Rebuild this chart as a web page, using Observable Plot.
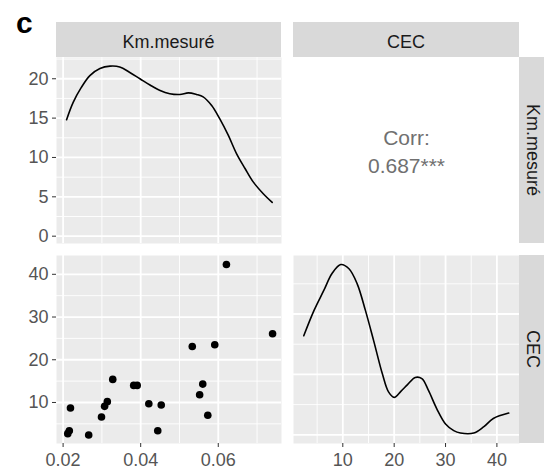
<!DOCTYPE html>
<html><head><meta charset="utf-8">
<script src="https://cdn.jsdelivr.net/npm/d3@7"></script>
<script src="https://cdn.jsdelivr.net/npm/@observablehq/plot@0.6"></script>
<style>
body{margin:0;background:#fff;}
#c{position:relative;width:544px;height:475px;overflow:hidden;font-family:"Liberation Sans",Arial,sans-serif;background:#fff;}
.strip{position:absolute;background:#D9D9D9;color:#1A1A1A;font-size:18px;display:flex;align-items:center;justify-content:center;box-sizing:border-box;}
.top{padding-top:5px;}
.side{writing-mode:vertical-rl;}
#lab{position:absolute;left:16px;top:6px;font-weight:bold;font-size:30px;color:#000;}
#c svg{position:absolute;overflow:visible;}
</style></head><body><div id="c"><div id="lab">c</div></div>
<script>
// ---- data ----
const variables = ["Km.mesuré", "CEC"];
const kmValues  = [0.0212, 0.0216, 0.0219, 0.0266, 0.0299, 0.0307, 0.0314, 0.0328, 0.0382, 0.0391,
                   0.0421, 0.0444, 0.0453, 0.0533, 0.0552, 0.0560, 0.0573, 0.0591, 0.0621, 0.0740];
const cecValues = [2.7, 3.4, 8.7, 2.4, 6.6, 9.1, 10.2, 15.4, 14.0, 14.0,
                   9.7, 3.4, 9.4, 23.1, 11.8, 14.3, 7.0, 23.5, 42.3, 26.1];
const kmDensityX = [0.0209, 0.0226, 0.0247, 0.0269, 0.0295, 0.0321, 0.0346, 0.0372, 0.0398, 0.0424,
                    0.0450, 0.0475, 0.0501, 0.0523, 0.0544, 0.0561, 0.0583, 0.0604, 0.0626, 0.0647,
                    0.0669, 0.0690, 0.0716, 0.0739];
const kmDensityY = [14.8, 17.0, 18.9, 20.4, 21.3, 21.6, 21.5, 20.8, 20.0, 19.2,
                    18.5, 18.1, 18.0, 18.2, 18.0, 17.7, 16.6, 14.9, 12.8, 10.5,
                    8.6, 6.9, 5.4, 4.3];
const cecDensityX = [2.4, 4.4, 6.3, 7.9, 9.6, 11.2, 12.8, 14.4, 16.0, 17.7, 18.9, 20.0, 21.3, 22.6,
                     24.1, 25.4, 26.7, 28.3, 30.0, 31.6, 32.9, 35.5, 37.4, 39.3, 42.3];
const cecDensityY = [0.0164, 0.0206, 0.0239, 0.0267, 0.0282, 0.0275, 0.0250, 0.0206, 0.0156, 0.0101,
                     0.0071, 0.0062, 0.0072, 0.0083, 0.0095, 0.0093, 0.0073, 0.0043, 0.0018, 0.0007,
                     0.0003, 0.0003, 0.0013, 0.0027, 0.0036];
const corrLabel = ["Corr:", "0.687***"];
const kmTicks = [0.02, 0.04, 0.06];
const kmMinor = [0.03, 0.05, 0.07];
const cecTicks = [10, 20, 30, 40];
const cecMinor = [5, 15, 25, 35];
const kmDensTicks = [0, 5, 10, 15, 20];
const kmDensMinor = [2.5, 7.5, 12.5, 17.5, 22.5];
const cecDensMajor = [0, 0.01, 0.02];
const cecDensMinor = [0.005, 0.015, 0.025];

// ---- layout ----
const X0 = 56, X1 = 281, X2 = 293, X3 = 519, Y0 = 57, Y1 = 243, Y2 = 255, Y3 = 443, W = 544, H = 475;
const kmDomain = [0.0183, 0.0763];
const cecDomain = [0.4, 44.4];
const kmDensDomain = [-0.93, 22.7];
const cecDensDomain = [-0.00144, 0.02969];

const points = kmValues.map((k, i) => ({km: k, cec: cecValues[i]}));
const kmDens = kmDensityX.map((x, i) => ({x, y: kmDensityY[i]}));
const cecDens = cecDensityX.map((x, i) => ({x, y: cecDensityY[i]}));

const BG = "#EBEBEB", AX = "#555555";
const style = {fontSize: "18px", fontFamily: "Liberation Sans, Arial, sans-serif", color: AX, background: "transparent", overflow: "visible"};
const grids = (xMaj, xMin, yMaj, yMin) => [
  Plot.frame({fill: BG, stroke: null}),
  Plot.gridX(xMin, {stroke: "white", strokeOpacity: 1, strokeWidth: 0.9}),
  Plot.gridY(yMin, {stroke: "white", strokeOpacity: 1, strokeWidth: 0.9}),
  Plot.gridX(xMaj, {stroke: "white", strokeOpacity: 1, strokeWidth: 1.8}),
  Plot.gridY(yMaj, {stroke: "white", strokeOpacity: 1, strokeWidth: 1.8})
];
const c = document.getElementById("c");
function place(el, left, top) { el.style.left = left + "px"; el.style.top = top + "px"; c.appendChild(el); }

// top-left: density of Km
place(Plot.plot({
  width: X1, height: Y1 - Y0, marginLeft: X0, marginRight: 0, marginTop: 0, marginBottom: 0, style,
  x: {domain: kmDomain, axis: null}, y: {domain: kmDensDomain},
  marks: [
    ...grids(kmTicks, kmMinor, kmDensTicks, kmDensMinor),
    Plot.axisY(kmDensTicks, {tickSize: 4, tickPadding: 4, stroke: "#333", label: null}),
    Plot.line(kmDens, {x: "x", y: "y", stroke: "black", strokeWidth: 1.6, curve: "catmull-rom"})
  ]
}), 0, Y0);

// top-right: correlation
place(Plot.plot({
  width: X3 - X2, height: Y1 - Y0, margin: 0, style,
  x: {domain: [0, 1], axis: null}, y: {domain: [0, 1], axis: null},
  marks: [
    Plot.text([corrLabel.join("\n")], {frameAnchor: "middle", fontSize: 21, fill: "#707070", lineHeight: 1.33})
  ]
}), X2, Y0);

// bottom-left: scatter
place(Plot.plot({
  width: X1, height: H - Y2, marginLeft: X0, marginRight: 0, marginTop: 0, marginBottom: H - Y3, style,
  x: {domain: kmDomain}, y: {domain: cecDomain},
  marks: [
    ...grids(kmTicks, kmMinor, cecTicks, cecMinor),
    Plot.axisY(cecTicks, {tickSize: 4, tickPadding: 4, stroke: "#333", label: null}),
    Plot.axisX(kmTicks, {tickSize: 4, tickPadding: 6, stroke: "#333", label: null}),
    Plot.dot(points, {x: "km", y: "cec", r: 3.8, fill: "black", stroke: null})
  ]
}), 0, Y2);

// bottom-right: density of CEC
place(Plot.plot({
  width: X3 - X2, height: H - Y2, marginLeft: 0, marginRight: 0, marginTop: 0, marginBottom: H - Y3, style,
  x: {domain: cecDomain}, y: {domain: cecDensDomain, axis: null},
  marks: [
    ...grids(cecTicks, cecMinor, cecDensMajor, cecDensMinor),
    Plot.axisX(cecTicks, {tickSize: 4, tickPadding: 6, stroke: "#333", label: null}),
    Plot.line(cecDens, {x: "x", y: "y", stroke: "black", strokeWidth: 1.6, curve: "catmull-rom"})
  ]
}), X2, Y2);

// strips
function strip(text, left, top, w, h, cls) {
  const d = document.createElement("div");
  d.className = "strip " + cls;
  d.textContent = text;
  d.style.width = w + "px"; d.style.height = h + "px";
  place(d, left, top);
}
strip(variables[0], X0, 22, X1 - X0, Y0 - 22, "top");
strip(variables[1], X2, 22, X3 - X2, Y0 - 22, "top");
strip(variables[0], X3, Y0, W - X3 + 1, Y1 - Y0, "side");
strip(variables[1], X3, Y2, W - X3 + 1, Y3 - Y2, "side");
</script></body></html>
